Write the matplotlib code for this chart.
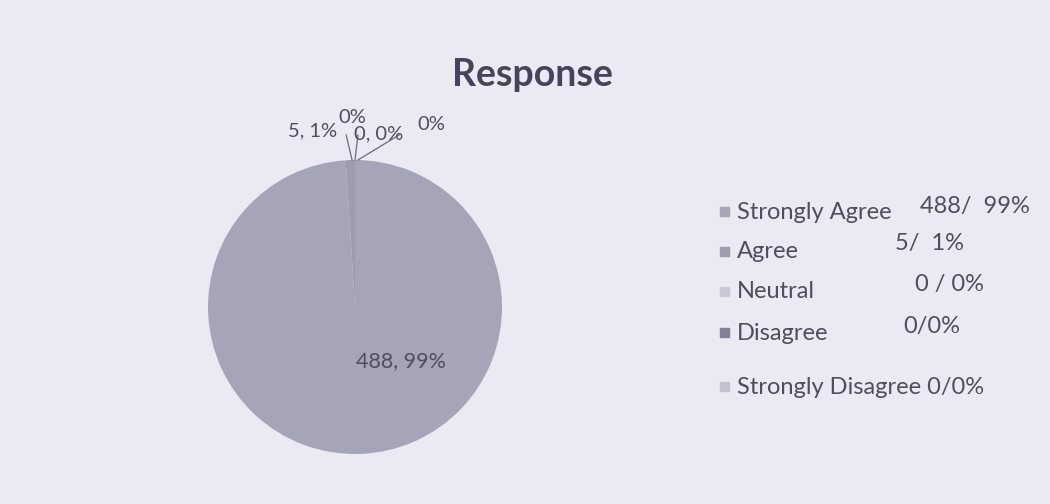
import matplotlib
matplotlib.use("Agg")
import matplotlib.pyplot as plt
from matplotlib.patches import Rectangle

plt.rcParams['font.family'] = ['Lato', 'DejaVu Sans']

categories = ['Strongly Agree', 'Agree', 'Neutral', 'Disagree', 'Strongly Disagree']
counts = [488, 5, 0, 0, 0]
legend_values = ['488/  99%', '5/  1%', '0 / 0%', '0/0%', '0/0%']
pie_labels = ['488, 99%', '5, 1%', '0%', '0, 0%', '0%']
title = 'Response'

bg = '#ebe9f3'
slice_colors = ['#a6a5b7', '#9e9db0', '#c9c8d6', '#838196', '#c2c1cf']
text_color = '#4f4e5e'

fig = plt.figure(figsize=(10.5, 5.04), dpi=100, facecolor=bg)

# pie axes: center ~(355,307) px, radius ~147 px
ax = fig.add_axes([208 / 1050, 50 / 504, 294 / 1050, 294 / 504])
ax.set_facecolor(bg)
wedges, _ = ax.pie(counts, colors=slice_colors, startangle=90, counterclock=False,
                   radius=1.0, wedgeprops=dict(linewidth=0))
ax.set_xlim(-1, 1)
ax.set_ylim(-1, 1)
ax.set_aspect('equal')
ax.axis('off')

# data labels (positions relative to the pie)
label_pos = [(0.31, -0.37), (-0.29, 1.20), (-0.02, 1.29), (0.16, 1.18), (0.52, 1.24)]
label_size = [15.5, 14.5, 14.5, 14.5, 14.5]
for lab, (x, y), fs in zip(pie_labels, label_pos, label_size):
    ax.text(x, y, lab, ha='center', va='center', fontsize=fs, color=text_color, clip_on=False)

# leader lines for the tiny slices
leaders = [((-0.02, 1.0), (-0.06, 1.17)), ((0.0, 1.0), (0.02, 1.17)), ((0.02, 1.0), (0.30, 1.17))]
for (x0, y0), (x1, y1) in leaders:
    ax.plot([x0, x1], [y0, y1], color='#6a697e', lw=0.9, clip_on=False)

fig.text(532 / 1050, 1 - 75 / 504, title, ha='center', va='center',
         fontsize=27, fontweight='bold', color='#45445a')

# legend (values sit a little above their labels, as in the print)
rows_y = [212, 252, 292, 333, 387]
vals_y = [206, 243, 285, 326, None]
vals_x = [920, 895, 915, 903, None]
for i, cat in enumerate(categories):
    yf = 1 - rows_y[i] / 504
    fig.patches.append(Rectangle((720 / 1050, yf - 4 / 504), 9 / 1050, 9 / 504,
                                 transform=fig.transFigure, color=slice_colors[i]))
    if vals_x[i] is None:
        fig.text(737 / 1050, yf, cat + ' ' + legend_values[i], ha='left', va='center',
                 fontsize=17, color=text_color)
    else:
        fig.text(737 / 1050, yf, cat, ha='left', va='center', fontsize=17, color=text_color)
        fig.text(vals_x[i] / 1050, 1 - vals_y[i] / 504, legend_values[i], ha='left', va='center',
                 fontsize=17, color=text_color)

fig.savefig('out.png', dpi=100, facecolor=bg)
